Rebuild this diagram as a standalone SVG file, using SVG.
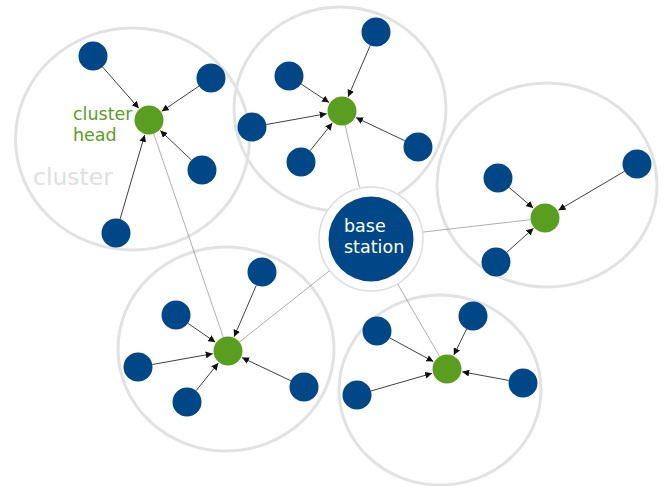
<svg xmlns="http://www.w3.org/2000/svg" width="664" height="486" viewBox="0 0 664 486">
<defs>
<marker id="ah" viewBox="0 0 10 10" refX="10" refY="5" markerWidth="7" markerHeight="7" markerUnits="userSpaceOnUse" orient="auto">
<path d="M0,0 L10,5 L0,10 z" fill="#111"/>
</marker>
</defs>
<style>
.cl{fill:none;stroke:#e2e2e2;stroke-width:3}
.n{fill:#004787}
.h{fill:#5a9e1f}
.a{stroke:#2a2a2a;stroke-width:0.9;fill:none;marker-end:url(#ah)}
.lk{stroke:#777;stroke-width:0.6;fill:none}
.t{font-family:"DejaVu Sans",Verdana,sans-serif}
</style>
<rect width="664" height="486" fill="#fff"/>
<g id="clusters">
<ellipse class="cl" cx="132.5" cy="139" rx="117" ry="111"/>
<ellipse class="cl" cx="340" cy="109" rx="106" ry="102"/>
<ellipse class="cl" cx="547" cy="185" rx="110" ry="102"/>
<ellipse class="cl" cx="226" cy="349" rx="108" ry="102"/>
<ellipse class="cl" cx="440" cy="390" rx="101" ry="95"/>
</g>
<text class="t" x="33" y="185" font-size="23.5" fill="#e0e0e0">cluster</text>
<g id="links">
<line class="lk" x1="153.7" y1="133.7" x2="223.3" y2="337.3"/>
<line class="lk" x1="239.4" y1="342" x2="330.2" y2="270.2"/>
<line class="lk" x1="345.2" y1="125.1" x2="359.4" y2="187.3"/>
<line class="lk" x1="530.6" y1="219.7" x2="422.7" y2="232.1"/>
<line class="lk" x1="439.7" y1="356.5" x2="397.1" y2="283"/>
</g>
<g id="arrows">
<line class="a" x1="102.5" y1="66.9" x2="138.8" y2="108.3"/>
<line class="a" x1="199" y1="86.1" x2="161.8" y2="111.3"/>
<line class="a" x1="191.5" y1="160.1" x2="160.3" y2="130.6"/>
<line class="a" x1="120.1" y1="219.1" x2="144.7" y2="134.9"/>
<line class="a" x1="370.3" y1="45.3" x2="348.1" y2="96.8"/>
<line class="a" x1="301.1" y1="84" x2="329.1" y2="102.5"/>
<line class="a" x1="266.3" y1="124.5" x2="326.7" y2="113.7"/>
<line class="a" x1="310.1" y1="150.7" x2="332.3" y2="123.1"/>
<line class="a" x1="404.9" y1="140.8" x2="356" y2="117.6"/>
<line class="a" x1="509" y1="187.4" x2="533.2" y2="208"/>
<line class="a" x1="624.5" y1="171.3" x2="558.4" y2="210.2"/>
<line class="a" x1="506.8" y1="252.3" x2="533.5" y2="228.3"/>
<line class="a" x1="256.3" y1="285.3" x2="234.1" y2="336.8"/>
<line class="a" x1="187.9" y1="323.3" x2="215.3" y2="342.2"/>
<line class="a" x1="152.3" y1="364.5" x2="212.7" y2="353.7"/>
<line class="a" x1="196.1" y1="390.7" x2="218.3" y2="363.1"/>
<line class="a" x1="290.9" y1="380.8" x2="242" y2="357.6"/>
<line class="a" x1="389.7" y1="337.9" x2="433.4" y2="361.6"/>
<line class="a" x1="466.6" y1="329" x2="453.8" y2="355.1"/>
<line class="a" x1="370.9" y1="391" x2="432.1" y2="373.3"/>
<line class="a" x1="508.7" y1="380.4" x2="462.2" y2="371.8"/>
</g>
<g id="base-station">
<circle cx="371" cy="239" r="52" fill="#fff" stroke="#ddd" stroke-width="1.5"/>
<circle cx="371" cy="239" r="42.5" fill="#004787"/>
<text class="t" x="344" y="232" font-size="17.5" fill="#fff">base</text>
<text class="t" x="344" y="253" font-size="17.5" fill="#fff">station</text>
</g>
<g id="cluster1">
<circle class="n" cx="93" cy="56" r="14.5"/>
<circle class="n" cx="211" cy="78" r="14.5"/>
<circle class="n" cx="202" cy="170" r="14.5"/>
<circle class="n" cx="116" cy="233" r="14.5"/>
<circle class="h" cx="149" cy="120" r="14.5"/>
<text class="t" x="73" y="120" font-size="17.5" fill="#5a9e1f">cluster</text>
<text class="t" x="73" y="141" font-size="17.5" fill="#5a9e1f">head</text>
</g>
<g id="cluster2">
<circle class="n" cx="376" cy="32" r="14.5"/>
<circle class="n" cx="289" cy="76" r="14.5"/>
<circle class="n" cx="252" cy="127" r="14.5"/>
<circle class="n" cx="301" cy="162" r="14.5"/>
<circle class="n" cx="418" cy="147" r="14.5"/>
<circle class="h" cx="342" cy="111" r="14.5"/>
</g>
<g id="cluster3">
<circle class="n" cx="498" cy="178" r="14.5"/>
<circle class="n" cx="637" cy="164" r="14.5"/>
<circle class="n" cx="496" cy="262" r="14.5"/>
<circle class="h" cx="545" cy="218" r="14.5"/>
</g>
<g id="cluster4">
<circle class="n" cx="262" cy="272" r="14.5"/>
<circle class="n" cx="176" cy="315" r="14.5"/>
<circle class="n" cx="138" cy="367" r="14.5"/>
<circle class="n" cx="187" cy="402" r="14.5"/>
<circle class="n" cx="304" cy="387" r="14.5"/>
<circle class="h" cx="228" cy="351" r="14.5"/>
</g>
<g id="cluster5">
<circle class="n" cx="377" cy="331" r="14.5"/>
<circle class="n" cx="473" cy="316" r="14.5"/>
<circle class="n" cx="357" cy="395" r="14.5"/>
<circle class="n" cx="523" cy="383" r="14.5"/>
<circle class="h" cx="447" cy="369" r="14.5"/>
</g>
</svg>
